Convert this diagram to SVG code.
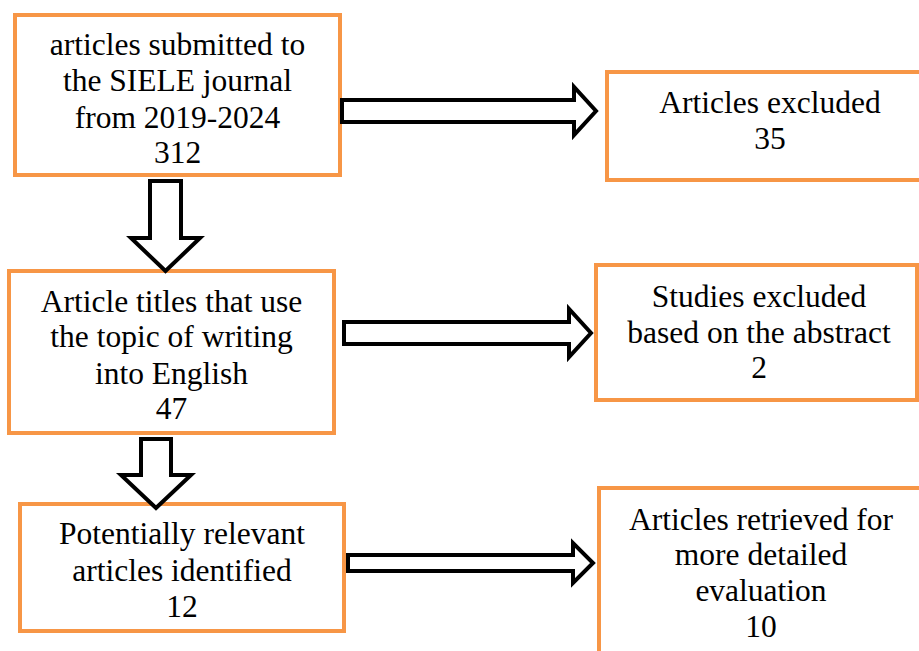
<svg xmlns="http://www.w3.org/2000/svg" width="919" height="651" viewBox="0 0 919 651">
<style>
.box{fill:#fff;stroke:#F79646;stroke-width:4}
.arr{fill:#fff;stroke:#000;stroke-width:4;stroke-linejoin:miter}
.t{font-family:'Liberation Serif','DejaVu Serif',serif;font-size:31.5px;fill:#000;text-anchor:middle}
</style>
<rect width="919" height="651" fill="#fff"/>
<g id="n1"><rect class="box" x="15" y="15" width="325" height="160"/>
<g class="t" font-family="Liberation Serif, serif"><text x="177.5" y="55">articles submitted to</text><text x="177.5" y="91">the SIELE journal</text><text x="177.5" y="128">from 2019-2024</text><text x="177.5" y="163">312</text></g></g>
<g id="n2"><rect class="box" x="9" y="271" width="325" height="162"/>
<g class="t" font-family="Liberation Serif, serif"><text x="171.5" y="312">Article titles that use</text><text x="171.5" y="347">the topic of writing</text><text x="171.5" y="384">into English</text><text x="171.5" y="419">47</text></g></g>
<g id="n3"><rect class="box" x="20" y="504" width="324" height="127"/>
<g class="t" font-family="Liberation Serif, serif"><text x="182" y="544">Potentially relevant</text><text x="182" y="581">articles identified</text><text x="182" y="617">12</text></g></g>
<g id="n4"><rect class="box" x="607" y="72" width="330" height="108"/>
<g class="t" font-family="Liberation Serif, serif"><text x="770" y="113">Articles excluded</text><text x="770" y="149">35</text></g></g>
<g id="n5"><rect class="box" x="596" y="265" width="321" height="135"/>
<g class="t" font-family="Liberation Serif, serif"><text x="759" y="307">Studies excluded</text><text x="759" y="343">based on the abstract</text><text x="759" y="378">2</text></g></g>
<g id="n6"><rect class="box" x="599" y="488" width="340" height="200"/>
<g class="t" font-family="Liberation Serif, serif"><text x="761" y="530">Articles retrieved for</text><text x="761" y="565">more detailed</text><text x="761" y="601">evaluation</text><text x="761" y="637">10</text></g></g>
<g id="connectors">
<polygon class="arr" points="342,100 574,100 574,87 596,111 574,135 574,122 342,122"/>
<polygon class="arr" points="344,322 569,322 569,309 591,333 569,357 569,344 344,344"/>
<polygon class="arr" points="348,555 573,555 573,543 593,563 573,583 573,571 348,571"/>
<polygon class="arr" points="150,181 181,181 181,238 200,238 165.5,271 131,238 150,238"/>
<polygon class="arr" points="141,439 171,439 171,475 191,475 156,508 121,475 141,475"/>
</g>
</svg>
